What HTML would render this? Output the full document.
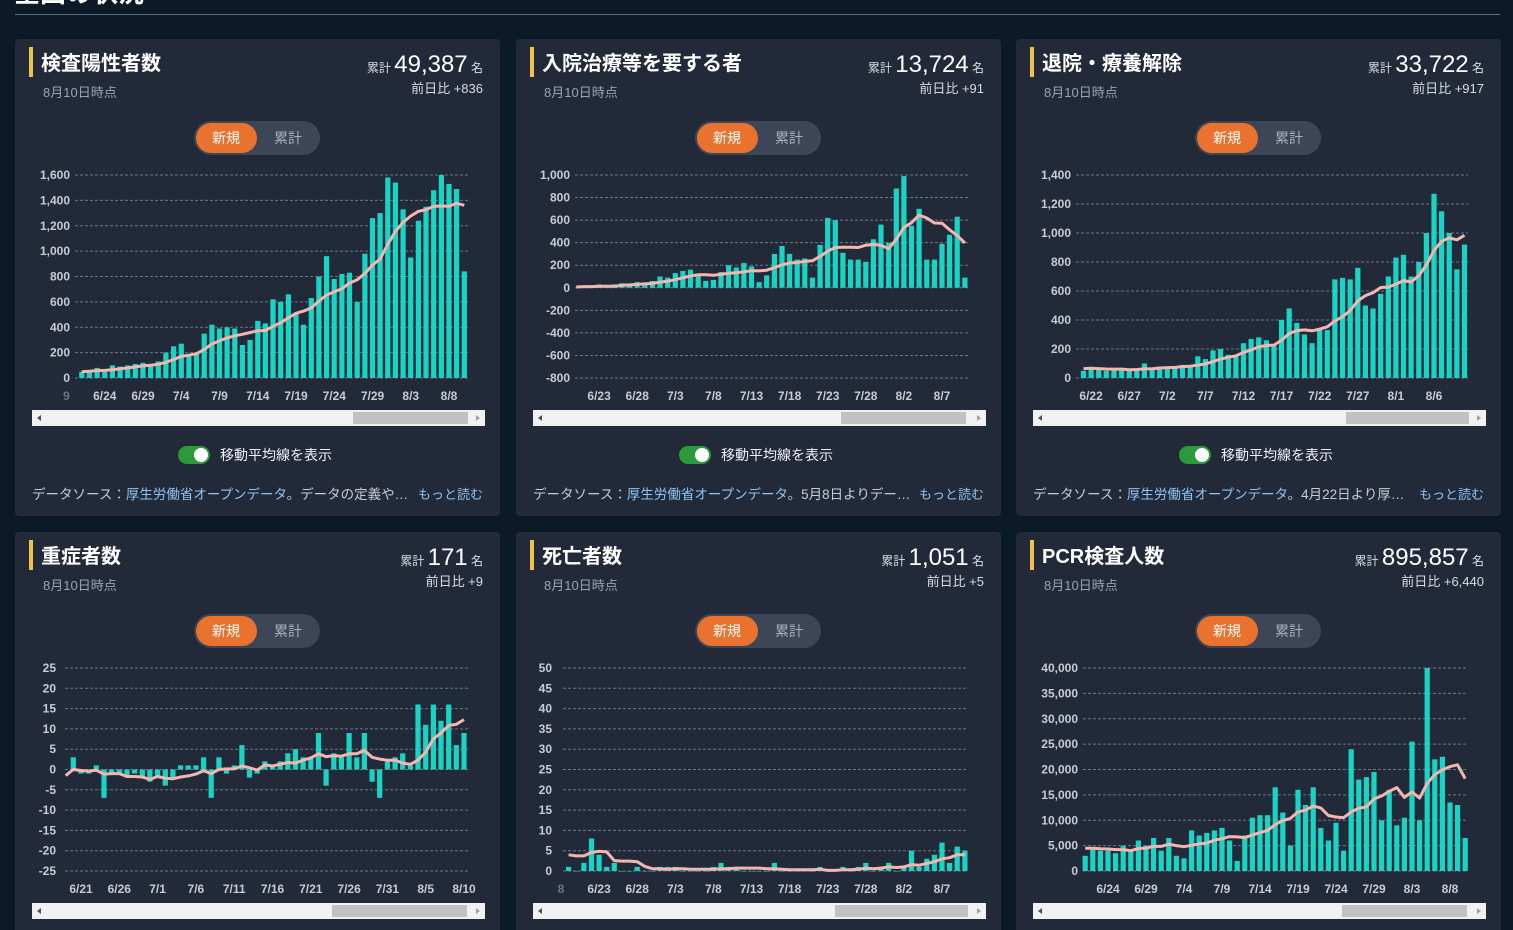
<!DOCTYPE html>
<html><head><meta charset="utf-8">
<style>
html,body{margin:0;padding:0;background:#0b1a26;width:1513px;height:930px;overflow:hidden;}
svg{display:block;font-family:"Liberation Sans","Noto Sans CJK JP",sans-serif;}
</style></head>
<body>
<svg id="s" width="1513" height="930" xmlns="http://www.w3.org/2000/svg">
<text x="14" y="2" font-size="26" font-weight="bold" fill="#fff">全国の状況</text>
<line x1="15" y1="14.5" x2="1500" y2="14.5" stroke="#5c7282" stroke-width="1"/>
</svg>
<script>
var S=document.getElementById('s');var out='';
function fmt(n){return n.toLocaleString('en-US');}
var cards=[
{cx:15,cy:39,title:'検査陽性者数',total:'49,387',diff:'+836',src:'。データの定義や…',
 px0:75,px1:468,yl:70,ticks:[0,200,400,600,800,1000,1200,1400,1600],min:0,max:1600,ref:[68,449],step:7.65,
 labs:[[18,'9'],[23,'6/24'],[28,'6/29'],[33,'7/4'],[38,'7/9'],[43,'7/14'],[48,'7/19'],[53,'7/24'],[58,'7/29'],[63,'8/3'],[68,'8/8']],th:338,tw:115,
 v:[40,60,50,60,80,70,100,90,100,110,120,110,130,200,250,270,180,200,350,420,390,400,390,260,300,450,430,620,600,660,510,420,630,800,960,780,820,830,600,980,1260,1300,1580,1540,1330,950,1240,1350,1480,1600,1530,1490,840]},
{cx:516,cy:39,title:'入院治療等を要する者',total:'13,724',diff:'+91',src:'。5月8日よりデー…',
 px0:575,px1:968,yl:570,ticks:[-800,-600,-400,-200,0,200,400,600,800,1000],min:-800,max:1000,ref:[67,942],step:7.62,
 labs:[[17,''],[22,'6/23'],[27,'6/28'],[32,'7/3'],[37,'7/8'],[42,'7/13'],[47,'7/18'],[52,'7/23'],[57,'7/28'],[62,'8/2'],[67,'8/7']],th:325,tw:125,
 v:[30,-20,10,20,10,30,20,30,40,30,50,40,60,100,90,130,150,160,120,60,70,140,200,180,220,190,50,110,300,370,300,250,260,90,380,620,600,310,250,250,230,430,560,400,880,990,550,700,250,250,390,470,630,90]},
{cx:1016,cy:39,title:'退院・療養解除',total:'33,722',diff:'+917',src:'。4月22日より厚…',
 px0:1076,px1:1468,yl:1071,ticks:[0,200,400,600,800,1000,1200,1400],min:0,max:1400,ref:[66,1434],step:7.62,
 labs:[[21,'6/22'],[26,'6/27'],[31,'7/2'],[36,'7/7'],[41,'7/12'],[46,'7/17'],[51,'7/22'],[56,'7/27'],[61,'8/1'],[66,'8/6']],th:330,tw:123,
 v:[80,50,70,60,50,60,60,50,60,100,70,80,80,70,90,80,150,130,190,200,160,160,240,270,280,260,220,400,480,380,300,240,340,330,680,690,680,760,500,480,580,700,830,850,700,800,1000,1270,1150,1000,750,920]},
{cx:15,cy:532,title:'重症者数',total:'171',diff:'+9',src:'',
 px0:65,px1:468,yl:56,ticks:[-25,-20,-15,-10,-5,0,5,10,15,20,25],min:-25,max:25,ref:[70,464],step:7.66,
 labs:[[20,'6/21'],[25,'6/26'],[30,'7/1'],[35,'7/6'],[40,'7/11'],[45,'7/16'],[50,'7/21'],[55,'7/26'],[60,'7/31'],[65,'8/5'],[70,'8/10']],th:317,tw:135,
 v:[-2,-1,3,-1,-1,1,-7,-1,-1,-2,-1,-2,-3,-2,-4,-2,1,1,1,3,-7,3,-1,1,6,-2,-1,2,1,2,4,5,3,3,9,-4,4,3,9,3,9,-3,-7,2,3,4,1,16,11,16,12,16,6,9]},
{cx:516,cy:532,title:'死亡者数',total:'1,051',diff:'+5',src:'',pre:[2,2,2,2,2,2],
 px0:563,px1:968,yl:552,ticks:[0,5,10,15,20,25,30,35,40,45,50],min:0,max:50,ref:[67,942],step:7.62,
 labs:[[17,'8'],[22,'6/23'],[27,'6/28'],[32,'7/3'],[37,'7/8'],[42,'7/13'],[47,'7/18'],[52,'7/23'],[57,'7/28'],[62,'8/2'],[67,'8/7']],th:319,tw:133,
 v:[17,1,0,2,8,4,1,2,0,0,1,0,0,1,1,1,0,0,0,0,1,2,1,1,0,0,0,0,2,0,0,0,0,0,1,0,0,1,0,1,2,0,1,2,0,1,5,1,3,4,7,2,6,5]},
{cx:1016,cy:532,title:'PCR検査人数',total:'895,857',diff:'+6,440',src:'',
 px0:1083,px1:1468,yl:1078,ticks:[0,5000,10000,15000,20000,25000,30000,35000,40000],min:0,max:40000,ref:[68,1450],step:7.6,
 labs:[[18,''],[23,'6/24'],[28,'6/29'],[33,'7/4'],[38,'7/9'],[43,'7/14'],[48,'7/19'],[53,'7/24'],[58,'7/29'],[63,'8/3'],[68,'8/8']],th:326,tw:125,
 v:[5,5.5,3,4.5,4,4,3.5,5,4,6,5,6.5,4,6.5,3,2.5,8,7,7.5,8,8.5,6,2,7,10.5,11,11,16.5,11.5,5,16,13,16.5,8.5,6,9.5,4,24,18,18.5,19.5,10,16,9,10.5,25.5,10,40,22,22.5,13.5,13,6.5].map(function(x){return x*1000;})}
];
var SRC=['厚生労働省オープンデータ','厚生労働省オープンデータ','厚生労働省オープンデータ'];
cards.forEach(function(c,ci){
 var cx=c.cx,cy=c.cy;
 out+='<rect x="'+cx+'" y="'+cy+'" width="485" height="477" rx="4" fill="#222a3a"/>';
 out+='<rect x="'+(cx+14)+'" y="'+(cy+8)+'" width="4" height="30" fill="#f0c24b"/>';
 out+='<text x="'+(cx+26)+'" y="'+(cy+31)+'" font-size="20" font-weight="bold" fill="#fff">'+c.title+'</text>';
 out+='<text x="'+(cx+28)+'" y="'+(cy+58)+'" font-size="13" fill="#9aa3ae">8月10日時点</text>';
 out+='<text x="'+(cx+468)+'" y="'+(cy+33)+'" text-anchor="end" fill="#fff"><tspan font-size="12" fill="#d8dce2">累計 </tspan><tspan font-size="24">'+c.total+'</tspan><tspan font-size="12" fill="#d8dce2"> 名</tspan></text>';
 out+='<text x="'+(cx+468)+'" y="'+(cy+54)+'" text-anchor="end" font-size="13" fill="#d8dce2">前日比 '+c.diff+'</text>';
 out+='<rect x="'+(cx+179)+'" y="'+(cy+82)+'" width="126" height="34" rx="17" fill="#3d4657"/>';
 out+='<rect x="'+(cx+181)+'" y="'+(cy+84)+'" width="61" height="30" rx="15" fill="#e8722e"/>';
 out+='<text x="'+(cx+211)+'" y="'+(cy+104)+'" text-anchor="middle" font-size="14" fill="#fff">新規</text>';
 out+='<text x="'+(cx+273)+'" y="'+(cy+104)+'" text-anchor="middle" font-size="14" fill="#aab0ba">累計</text>';
 var Y0=cy+136,Y1=cy+339;
 function yv(v){return Y1-(v-c.min)/(c.max-c.min)*(Y1-Y0);}
 c.ticks.forEach(function(t){var y=yv(t);
  out+='<line x1="'+c.px0+'" x2="'+c.px1+'" y1="'+y+'" y2="'+y+'" stroke="#6b7586" stroke-dasharray="3,2" stroke-width="1"/>';
  out+='<text x="'+c.yl+'" y="'+(y+4)+'" text-anchor="end" font-size="12" font-weight="bold" fill="#c8ccd2">'+fmt(t)+'</text>';});
 var n=c.v.length,start=71-n;
 function xd(d){return c.ref[1]+(d-c.ref[0])*c.step;}
 var zero=yv(Math.max(0,c.min));
 c.v.forEach(function(v,i){var x=xd(start+i)-2.6;if(x<c.px0-1)return;var y=yv(v);
  var top=Math.min(y,zero),h=Math.abs(y-zero);if(h<0.5)h=0.5;
  out+='<rect x="'+x.toFixed(1)+'" y="'+top.toFixed(1)+'" width="5.2" height="'+h.toFixed(1)+'" fill="#19d3c5"/>';});
 var pre=c.pre||[];var all=pre.concat(c.v);var P=pre.length;
 var pts=[];
 c.v.forEach(function(v,i){var a=0,k=0,ii=i+P;for(var j=Math.max(0,ii-6);j<=ii;j++){a+=all[j];k++;}var x=xd(start+i);if(x<c.px0)return;pts.push(x.toFixed(1)+','+yv(a/k).toFixed(1));});
 out+='<polyline points="'+pts.join(' ')+'" fill="none" stroke="#f3b7b0" stroke-width="3" stroke-linejoin="round"/>';
 c.labs.forEach(function(l){var x=xd(l[0]);out+='<text x="'+x+'" y="'+(cy+361)+'" text-anchor="middle" font-size="12" font-weight="bold" fill="'+(l[1].length<3?'#6b7586':'#c8ccd2')+'">'+l[1]+'</text>';});
 out+='<rect x="'+(cx+17)+'" y="'+(cy+371)+'" width="453" height="16" fill="#f1f1f1"/>';
 out+='<rect x="'+(cx+c.th)+'" y="'+(cy+373)+'" width="'+c.tw+'" height="12" fill="#c1c1c1"/>';
 out+='<polygon points="'+(cx+22)+','+(cy+379)+' '+(cx+26)+','+(cy+376)+' '+(cx+26)+','+(cy+382)+'" fill="#505050"/>';
 out+='<polygon points="'+(cx+465)+','+(cy+379)+' '+(cx+461)+','+(cy+376)+' '+(cx+461)+','+(cy+382)+'" fill="#a0a0a0"/>';
 out+='<rect x="'+(cx+163)+'" y="'+(cy+407)+'" width="32" height="18" rx="9" fill="#2a9a3a"/>';
 out+='<circle cx="'+(cx+186)+'" cy="'+(cy+416)+'" r="7" fill="#fff"/>';
 out+='<text x="'+(cx+205)+'" y="'+(cy+421)+'" font-size="14" fill="#eef0f3">移動平均線を表示</text>';
 if(c.src){
  out+='<text x="'+(cx+17)+'" y="'+(cy+460)+'" font-size="13.5" fill="#c8ccd2">データソース：<tspan fill="#8fc3f2">'+SRC[ci]+'</tspan>'+c.src+'</text>';
  out+='<text x="'+(cx+468)+'" y="'+(cy+460)+'" text-anchor="end" font-size="13" fill="#8fc3f2">もっと読む</text>';
 }
});
S.insertAdjacentHTML('beforeend',out);
</script>
</body></html>
